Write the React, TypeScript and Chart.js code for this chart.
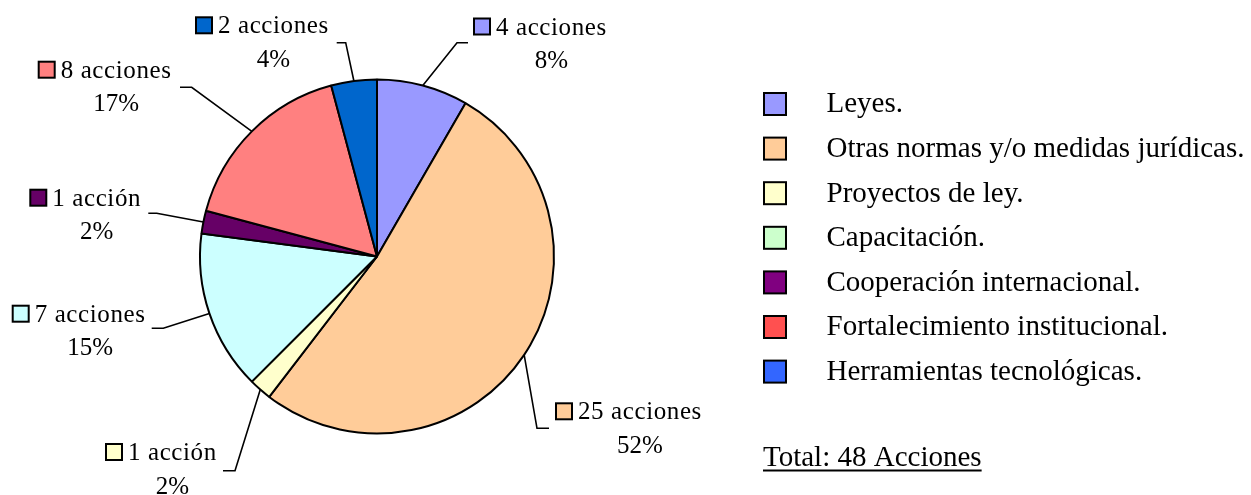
import React, { useEffect, useRef } from "react";
import { Chart, registerables } from "chart.js";

Chart.register(...registerables);

// ---- data ----
const categories = [
  "Leyes.",
  "Otras normas y/o medidas jurídicas.",
  "Proyectos de ley.",
  "Capacitación.",
  "Cooperación internacional.",
  "Fortalecimiento institucional.",
  "Herramientas tecnológicas.",
];
const actionCounts = [4, 25, 1, 7, 1, 8, 2];
const sliceColors = ["#9999FF", "#FFCC99", "#FFFFCC", "#CCFFFF", "#660066", "#FF8080", "#0066CC"];
const legendColors = ["#9999FF", "#FFCC99", "#FFFFCC", "#CCFFCC", "#800080", "#FF5050", "#3366FF"];

// ---- layout (label placement for each slice) ----
const LABEL_LAYOUT = [
  { boxX: 473, base: 34.5, elbow: [457, 42.7], endX: 468 },
  { boxX: 555, base: 419.3, elbow: [537, 428.3], endX: 549 },
  { boxX: 105, base: 460, elbow: [235, 470.7], endX: 223 },
  { boxX: 11.7, base: 321.7, elbow: [163.3, 328.3], endX: 151.7 },
  { boxX: 29.3, base: 205.7, elbow: [156.7, 213.3], endX: 148.3 },
  { boxX: 37.7, base: 77.7, elbow: [191.7, 87.3], endX: 180 },
  { boxX: 195, base: 33.3, elbow: [345.7, 42.7], endX: 336.7 },
];

const W = 1251;
const H = 495;
const FONT = '"Liberation Serif", "Times New Roman", serif';

const labelsPlugin = {
  id: "customLabels",
  afterDraw(chart: any) {
    const ctx = chart.ctx as CanvasRenderingContext2D;
    const meta = chart.getDatasetMeta(0);
    const total = actionCounts.reduce((a, b) => a + b, 0);
    ctx.save();
    // leader lines + labels
    meta.data.forEach((arc: any, i: number) => {
      const p = arc.getProps(["x", "y", "startAngle", "endAngle", "outerRadius"], true);
      const mid = (p.startAngle + p.endAngle) / 2;
      const sx = p.x + Math.cos(mid) * p.outerRadius;
      const sy = p.y + Math.sin(mid) * p.outerRadius;
      const L = LABEL_LAYOUT[i];
      ctx.strokeStyle = "#000";
      ctx.lineWidth = 1.6;
      ctx.beginPath();
      ctx.moveTo(sx, sy);
      ctx.lineTo(L.elbow[0], L.elbow[1]);
      ctx.lineTo(L.endX, L.elbow[1]);
      ctx.stroke();

      // key box
      ctx.fillStyle = sliceColors[i];
      ctx.fillRect(L.boxX + 1, L.base - 16, 16, 16);
      ctx.lineWidth = 2;
      ctx.strokeRect(L.boxX + 1, L.base - 16, 16, 16);

      const v = actionCounts[i];
      const line1 = v === 1 ? "1 acción" : `${v} acciones`;
      const line2 = `${Math.round((v / total) * 100)}%`;
      ctx.fillStyle = "#000";
      ctx.font = `25px ${FONT}`;
      ctx.textBaseline = "alphabetic";
      ctx.textAlign = "left";
      (ctx as any).letterSpacing = "0.6px";
      const tx = L.boxX + 23;
      ctx.fillText(line1, tx, L.base);
      const w1 = ctx.measureText(line1).width;
      (ctx as any).letterSpacing = "0px";
      ctx.textAlign = "center";
      ctx.fillText(line2, tx + w1 / 2, L.base + 33.5);
    });

    // legend
    ctx.textAlign = "left";
    ctx.font = `29px ${FONT}`;
    categories.forEach((c, i) => {
      const top = 93 + i * 44.6;
      ctx.fillStyle = legendColors[i];
      ctx.fillRect(764, top, 22, 22);
      ctx.strokeStyle = "#000";
      ctx.lineWidth = 2;
      ctx.strokeRect(764, top, 22, 22);
      ctx.fillStyle = "#000";
      ctx.fillText(c, 826.5, top + 19.4);
    });

    // total
    const totalText = `Total: ${total} Acciones`;
    ctx.fillText(totalText, 763, 466);
    const tw = ctx.measureText(totalText).width;
    ctx.fillRect(763, 469.5, tw, 2);
    ctx.restore();
  },
};

export default function App() {
  const ref = useRef<HTMLCanvasElement>(null);
  useEffect(() => {
    if (!ref.current) return;
    const cx = 377;
    const cy = 256.5;
    const r = 177;
    const chart = new Chart(ref.current, {
      type: "pie",
      data: {
        labels: categories,
        datasets: [
          {
            data: actionCounts,
            backgroundColor: sliceColors,
            borderColor: "#000",
            borderWidth: 2,
            radius: r,
          } as any,
        ],
      },
      options: {
        responsive: false,
        animation: false,
        layout: {
          padding: {
            left: cx - r,
            right: W - (cx + r),
            top: cy - r,
            bottom: H - (cy + r),
          },
        },
        plugins: {
          legend: { display: false },
          tooltip: { enabled: false },
        },
      },
      plugins: [labelsPlugin],
    });
    return () => chart.destroy();
  }, []);
  return (
    <div style={{ position: "fixed", left: 0, top: 0, width: W, height: H, background: "#fff" }}>
      <canvas ref={ref} width={W} height={H} style={{ display: "block", width: W, height: H }} />
    </div>
  );
}
